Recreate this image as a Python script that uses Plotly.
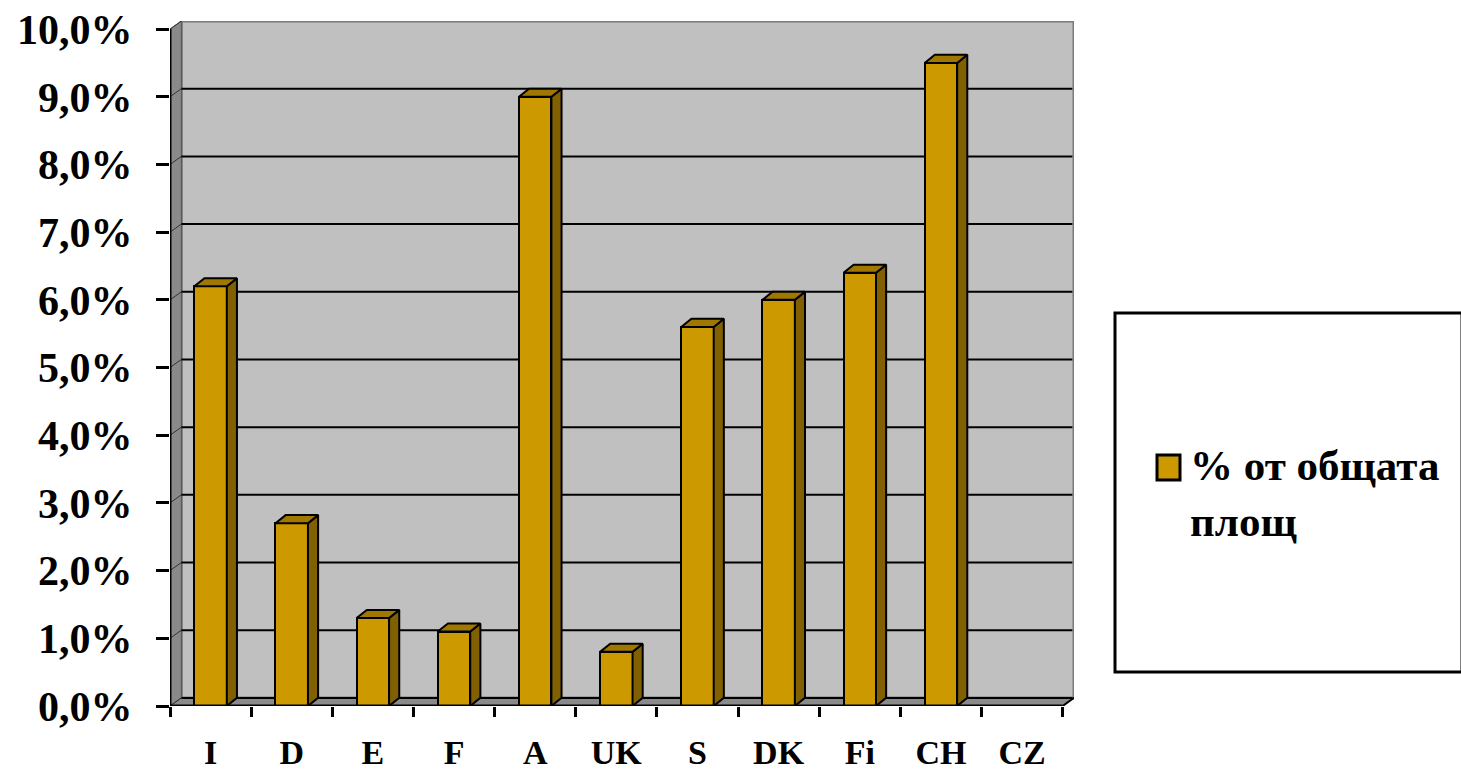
import plotly.graph_objects as go

# Share of total area per country (percent)
COUNTRIES = ["I", "D", "E", "F", "A", "UK", "S", "DK", "Fi", "CH", "CZ"]
SHARE_PCT = [6.2, 2.7, 1.3, 1.1, 9.0, 0.8, 5.6, 6.0, 6.4, 9.5, None]
SERIES_NAME = "% от общата<br>площ"
Y_TICKS = list(range(0, 11))
Y_TICK_TEXT = [f"{v:.1f}%".replace(".", ",") for v in Y_TICKS]

# pseudo-3D geometry (in axis units)
DEPTH_X = 0.14
DEPTH_Y = 0.12
BAR_W = 0.4
BAR_DX = 0.125
BAR_DY = 0.12

FRONT = "#CC9900"
SIDE = "#806000"
TOP = "#A07800"
WALL = "#C0C0C0"
SIDE_WALL = "#8A8A8A"
SERIF = "Liberation Serif"

n = len(COUNTRIES)
x_max = n + DEPTH_X
y_max = Y_TICKS[-1] + DEPTH_Y

W, H = 1461, 771
ML, MR, MT, MB = 170, 387, 21, 65
plot_w = W - ML - MR
plot_h = H - MT - MB


def px_x(p):
    return (p - ML) / plot_w


def px_y(p):
    return (H - MB - p) / plot_h


fig = go.Figure()

# front faces of the columns
fig.add_trace(go.Bar(
    x=[i + 0.5 for i in range(n)], y=SHARE_PCT, width=BAR_W,
    marker=dict(color=FRONT, line=dict(color="black", width=2)),
    showlegend=False, hoverinfo="skip",
))

# side and top faces of the columns
side_x, side_y, top_x, top_y = [], [], [], []
for i, v in enumerate(SHARE_PCT):
    if not v:
        continue
    l = i + 0.5 - BAR_W / 2
    r = i + 0.5 + BAR_W / 2
    side_x += [r, r, r + BAR_DX, r + BAR_DX, r, None]
    side_y += [0, v, v + BAR_DY, BAR_DY, 0, None]
    top_x += [l, r, r + BAR_DX, l + BAR_DX, l, None]
    top_y += [v, v, v + BAR_DY, v + BAR_DY, v, None]

fig.add_trace(go.Scatter(x=side_x, y=side_y, mode="lines", fill="toself",
                         fillcolor=SIDE, line=dict(color="black", width=2),
                         showlegend=False, hoverinfo="skip"))
fig.add_trace(go.Scatter(x=top_x, y=top_y, mode="lines", fill="toself",
                         fillcolor=TOP, line=dict(color="black", width=2),
                         showlegend=False, hoverinfo="skip"))

shapes = []
# back wall
shapes.append(dict(type="rect", xref="x", yref="y", layer="below",
                   x0=DEPTH_X, x1=x_max, y0=DEPTH_Y, y1=y_max,
                   fillcolor=WALL, line=dict(color="#7A7A7A", width=3)))
# left wall
shapes.append(dict(type="path", xref="x", yref="y", layer="below",
                   path=f"M0,0 L{DEPTH_X},{DEPTH_Y} L{DEPTH_X},{y_max} L0,{Y_TICKS[-1]} Z",
                   fillcolor=SIDE_WALL, line=dict(color="#555555", width=1)))
# floor
shapes.append(dict(type="path", xref="x", yref="y", layer="below",
                   path=f"M0,0 L{n},0 L{x_max},{DEPTH_Y} L{DEPTH_X},{DEPTH_Y} Z",
                   fillcolor=SIDE_WALL, line=dict(color="#555555", width=1)))
# gridlines on back and left walls
for k in Y_TICKS[:-1]:
    shapes.append(dict(type="line", xref="x", yref="y", layer="below",
                       x0=DEPTH_X, x1=x_max - 0.02, y0=k + DEPTH_Y, y1=k + DEPTH_Y,
                       line=dict(color="black", width=2)))
for k in Y_TICKS:
    shapes.append(dict(type="line", xref="x", yref="y", layer="below",
                       x0=0, x1=DEPTH_X, y0=k, y1=k + DEPTH_Y,
                       line=dict(color="#333333", width=1)))
# front axis lines
shapes.append(dict(type="line", xref="x", yref="y", layer="above",
                   x0=0, x1=0, y0=0, y1=Y_TICKS[-1], line=dict(color="black", width=3)))
shapes.append(dict(type="line", xref="x", yref="y", layer="above",
                   x0=0, x1=n, y0=0, y1=0, line=dict(color="black", width=3)))
shapes.append(dict(type="line", xref="x", yref="y", layer="above",
                   x0=n, x1=x_max, y0=0, y1=DEPTH_Y, line=dict(color="black", width=2)))

# legend box and key
shapes.append(dict(type="rect", xref="paper", yref="paper",
                   x0=px_x(1115), x1=px_x(1462), y0=px_y(672), y1=px_y(313),
                   line=dict(color="black", width=3), fillcolor="white"))
shapes.append(dict(type="rect", xref="paper", yref="paper",
                   x0=px_x(1157), x1=px_x(1180), y0=px_y(480), y1=px_y(455),
                   line=dict(color="black", width=3), fillcolor=FRONT))

fig.update_layout(
    width=W, height=H,
    margin=dict(l=ML, r=MR, t=MT, b=MB, autoexpand=False),
    paper_bgcolor="white", plot_bgcolor="white",
    showlegend=False,
    bargap=0,
    shapes=shapes,
    xaxis=dict(range=[0, x_max], tickmode="array", tickvals=list(range(n + 1)),
               showticklabels=False, ticks="outside", ticklen=10, tickwidth=3,
               tickcolor="black", showgrid=False, zeroline=False, showline=False,
               automargin=False),
    xaxis2=dict(range=[0, x_max], overlaying="x", side="bottom",
                tickmode="array", tickvals=[i + 0.5 for i in range(n)],
                ticktext=COUNTRIES, ticks="", ticklabelstandoff=23,
                tickfont=dict(family=SERIF, size=34, color="black", weight="bold"),
                showgrid=False, zeroline=False, showline=False, automargin=False),
    yaxis=dict(range=[0, y_max], tickmode="array", tickvals=Y_TICKS,
               ticktext=Y_TICK_TEXT, ticks="outside", ticklen=13,
               tickwidth=3, tickcolor="black", ticklabelstandoff=15,
               tickfont=dict(family=SERIF, size=42, color="black", weight="bold"),
               showgrid=False, zeroline=False, showline=False, automargin=False),
    annotations=[dict(xref="paper", yref="paper", x=px_x(1188), y=px_y(493),
                      xanchor="left", yanchor="middle", align="left",
                      text=SERIES_NAME, showarrow=False,
                      font=dict(family=SERIF, size=43, color="black", weight="bold"))],
)

# invisible trace that carries the category axis
fig.add_trace(go.Scatter(x=[0.5], y=[None], xaxis="x2", showlegend=False,
                         hoverinfo="skip"))

fig.write_html("out.html")
